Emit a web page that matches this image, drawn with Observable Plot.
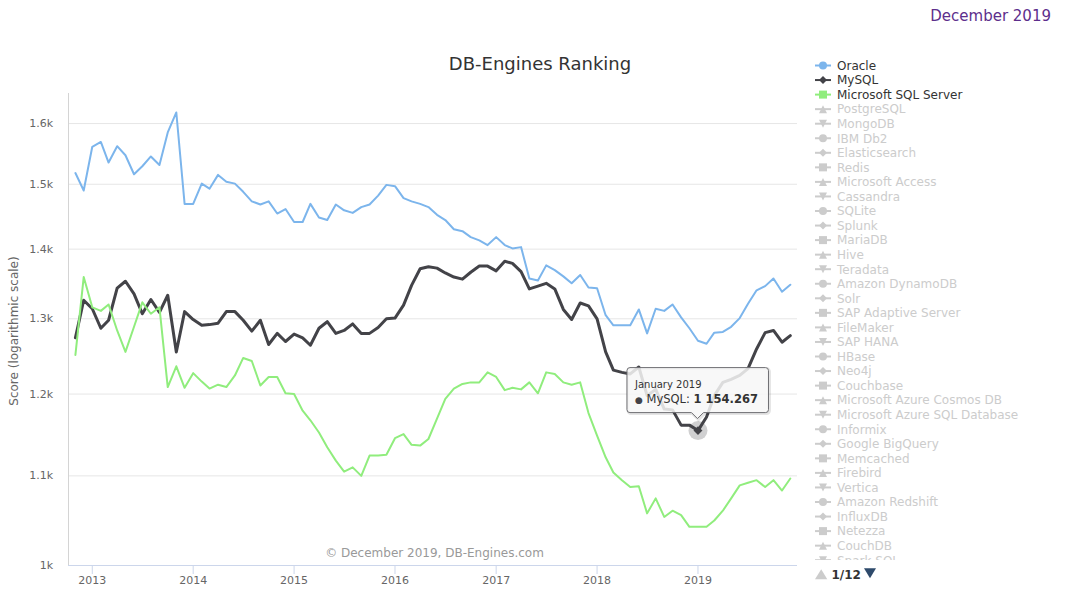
<!DOCTYPE html>
<html><head><meta charset="utf-8">
<script src="https://cdn.jsdelivr.net/npm/d3@7"></script>
<script src="https://cdn.jsdelivr.net/npm/@observablehq/plot@0.6"></script>
<style>
html,body{margin:0;padding:0;background:#fff;}
#chart{position:relative;width:1080px;height:600px;overflow:hidden;font-family:"DejaVu Sans",sans-serif;}
</style></head><body><div id="chart"></div>
<script>
// ---- data ----
const firstMonth = "2012-11-01";
const lastMonthExclusive = "2020-01-01";

const oracle = [
  1518, 1490,
  1561, 1569, 1535, 1562, 1547, 1516, 1529, 1545, 1531, 1585, 1619, 1469,
  1469, 1501, 1493, 1515, 1504, 1501, 1488, 1473, 1468, 1473, 1454, 1461,
  1441, 1441, 1469, 1448, 1444, 1468, 1459, 1455, 1464, 1468, 1482, 1499,
  1497, 1478, 1473, 1469, 1464, 1452, 1444, 1430, 1427, 1418, 1413, 1406,
  1418, 1406, 1401, 1403, 1357, 1354, 1376, 1369, 1360, 1350, 1362, 1344,
  1343, 1305, 1291, 1291, 1291, 1313, 1280, 1314, 1311, 1320, 1302, 1287,
  1270, 1266, 1281, 1282, 1289, 1301, 1321, 1340, 1346, 1357, 1338, 1348
];
const mysql = [
  1274, 1326,
  1314, 1287, 1298, 1343, 1353, 1335, 1307, 1327, 1309, 1333, 1255, 1310,
  1299, 1291, 1292, 1294, 1310, 1310, 1298, 1283, 1298, 1265, 1280, 1269,
  1279, 1274, 1264, 1287, 1296, 1280, 1284, 1293, 1280, 1280, 1288, 1300,
  1301, 1319, 1347, 1371, 1374, 1372, 1365, 1359, 1356, 1366, 1375, 1375,
  1368, 1382, 1379, 1367, 1342, 1346, 1350, 1342, 1313, 1299, 1322, 1318,
  1300, 1255, 1231, 1228, 1226, 1235, 1198, 1206, 1181, 1180, 1161, 1161,
  1154.267, 1171, 1198, 1215, 1219, 1224, 1233, 1259, 1281, 1284, 1268, 1277
];
const sqlserver = [
  1251, 1359,
  1316, 1311, 1320, 1284, 1255, 1289, 1323, 1307, 1316, 1209, 1236, 1208,
  1227, 1216, 1207, 1212, 1209, 1224, 1247, 1243, 1211, 1222, 1222, 1201,
  1200, 1179, 1167, 1152, 1134, 1118, 1105, 1110, 1100, 1124, 1124, 1125,
  1145, 1150, 1137, 1136, 1144, 1169, 1194, 1207, 1213, 1215, 1215, 1228,
  1222, 1205, 1208, 1206, 1215, 1201, 1228, 1226, 1215, 1212, 1215, 1176,
  1148, 1122, 1104, 1095, 1087, 1088, 1057, 1074, 1053, 1060, 1055, 1042,
  1042, 1042, 1049, 1060, 1074, 1089, 1092, 1095, 1087, 1095, 1083, 1097
];

const seriesNames = ["Oracle", "MySQL", "Microsoft SQL Server"];
const seriesColors = ["#7cb5ec", "#434348", "#90ed7d"];
const seriesWidths = [2, 3, 2];

const legendNames = [
  "Oracle", "MySQL", "Microsoft SQL Server", "PostgreSQL", "MongoDB", "IBM Db2",
  "Elasticsearch", "Redis", "Microsoft Access", "Cassandra", "SQLite", "Splunk",
  "MariaDB", "Hive", "Teradata", "Amazon DynamoDB", "Solr", "SAP Adaptive Server",
  "FileMaker", "SAP HANA", "HBase", "Neo4j", "Couchbase", "Microsoft Azure Cosmos DB",
  "Microsoft Azure SQL Database", "Informix", "Google BigQuery", "Memcached", "Firebird",
  "Vertica", "Amazon Redshift", "InfluxDB", "Netezza", "CouchDB", "Spark SQL"
];
const legendSymbols = ["circle", "diamond", "square", "triangle", "triangle-down"];

const yTicks = [1000, 1100, 1200, 1300, 1400, 1500, 1600];
const xTickYears = [2013, 2014, 2015, 2016, 2017, 2018, 2019];

const tooltipPoint = {series: "MySQL", date: "2019-01-01", label: "January 2019", value: 1154.267, text: "1 154.267"};

const titleText = "DB-Engines Ranking";
const yLabelText = "Score (logarithmic scale)";
const creditsText = "\u00a9 December 2019, DB-Engines.com";
const headerText = "December 2019";
const navText = "1/12";

// ---- build ----
const months = d3.utcMonth.range(new Date(firstMonth), new Date(lastMonthExclusive));
const seriesData = [oracle, mysql, sqlserver].map((vals, i) =>
  vals.map((v, j) => ({series: seriesNames[i], date: months[j], value: v})));

const W = 1080, H = 600;
const xDomain = [new Date("2012-10-07"), new Date("2019-12-27")];
const yDomain = [1000, 1652];

const tip = {...tooltipPoint, date: new Date(tooltipPoint.date)};

const plot = Plot.plot({
  width: W, height: H,
  marginLeft: 68, marginRight: 283, marginTop: 93, marginBottom: 35,
  style: {fontFamily: "'DejaVu Sans', sans-serif", background: "transparent", overflow: "visible"},
  x: {type: "utc", domain: xDomain},
  y: {type: "log", domain: yDomain},
  marks: [
    Plot.ruleY(yTicks.slice(1), {stroke: "#e6e6e6", strokeWidth: 1}),
    Plot.ruleY([yDomain[0]], {stroke: "#ccd6eb"}),
    Plot.ruleX([xDomain[0]], {stroke: "#d4d4d4"}),
    Plot.axisX({
      ticks: xTickYears.map(y => new Date(Date.UTC(y, 0, 1))),
      tickFormat: d3.utcFormat("%Y"), tickSize: 9, tickPadding: 1.5,
      stroke: "#ccd6eb", fill: "#666", fontSize: 11, label: null
    }),
    Plot.axisY({
      ticks: yTicks, tickFormat: d => `${d / 1000}k`, tickSize: 0, tickPadding: 15.3,
      fill: "#666", fontSize: 11, label: null
    }),
    ...seriesData.map((data, i) => Plot.line(data, {
      x: "date", y: "value", stroke: seriesColors[i], strokeWidth: seriesWidths[i],
      strokeLinejoin: "round", strokeLinecap: "round"
    })),
    Plot.dot([tip], {x: "date", y: "value", r: 9.5, fill: "#434348", fillOpacity: 0.25, stroke: "none"}),
    Plot.dot([tip], {x: "date", y: "value", r: 4, symbol: "diamond2", fill: "#434348", stroke: "none"})
  ]
});

document.getElementById("chart").appendChild(plot);
const svg = d3.select(plot);
const font = "'DejaVu Sans', sans-serif";

// header, title, y label, credits
svg.append("text").attr("x", 1051).attr("y", 21).attr("text-anchor", "end")
  .attr("font-family", font).attr("font-size", 15).attr("fill", "#5d2e8c").text(headerText);
svg.append("text").attr("x", 540).attr("y", 69.5).attr("text-anchor", "middle")
  .attr("font-family", font).attr("font-size", 18).attr("fill", "#333").text(titleText);
svg.append("text").attr("transform", "translate(18,331) rotate(-90)").attr("text-anchor", "middle")
  .attr("font-family", font).attr("font-size", 12).attr("fill", "#666").text(yLabelText);
svg.append("text").attr("x", 434.5).attr("y", 557).attr("text-anchor", "middle")
  .attr("font-family", font).attr("font-size", 12).attr("fill", "#999").text(creditsText);

// legend
const clip = svg.append("defs").append("clipPath").attr("id", "legclip");
clip.append("rect").attr("x", 800).attr("y", 50).attr("width", 280).attr("height", 510);
const leg = svg.append("g").attr("clip-path", "url(#legclip)").attr("text-anchor", "start");
function symbolPath(kind, cx, cy) {
  const s = 4;
  switch (kind) {
    case "circle": return `M${cx - s},${cy} a${s},${s} 0 1,0 ${2 * s},0 a${s},${s} 0 1,0 ${-2 * s},0 Z`;
    case "diamond": return `M${cx},${cy - s} L${cx + s},${cy} L${cx},${cy + s} L${cx - s},${cy} Z`;
    case "square": return `M${cx - s},${cy - s} H${cx + s} V${cy + s} H${cx - s} Z`;
    case "triangle": return `M${cx},${cy - s} L${cx + s},${cy + s} L${cx - s},${cy + s} Z`;
    default: return `M${cx - s},${cy - s} L${cx + s},${cy - s} L${cx},${cy + s} Z`;
  }
}
legendNames.forEach((name, i) => {
  const cy = 65.5 + 14.55 * i;
  const active = i < seriesNames.length;
  const col = active ? seriesColors[i] : "#cccccc";
  leg.append("line").attr("x1", 815).attr("x2", 831).attr("y1", cy).attr("y2", cy)
    .attr("stroke", col).attr("stroke-width", 2);
  leg.append("path").attr("d", symbolPath(legendSymbols[i % 5], 823, cy)).attr("fill", col);
  leg.append("text").attr("x", 837).attr("y", cy + 4.3).attr("text-anchor", "start").attr("font-family", font)
    .attr("font-size", 12).attr("fill", active ? "#333" : "#cccccc").text(name);
});
// legend navigation
svg.append("path").attr("d", "M815,579.3 L827.3,579.3 L821.2,569.3 Z").attr("fill", "#cccccc");
svg.append("text").attr("x", 831.5).attr("y", 578.5).attr("text-anchor", "start").attr("font-family", font).attr("font-size", 12)
  .attr("font-weight", "bold").attr("fill", "#333").text(navText);
svg.append("path").attr("d", "M864,568.3 L876,568.3 L870,578.3 Z").attr("fill", "#2e4a6b");

// tooltip
const px = plot.scale("x").apply(tip.date);
const py = plot.scale("y").apply(tip.value);
const bw = 141.5, bh = 45, r = 3;
const bx = px - 70.5, by = py - 62.5;
const calloutD = `M${bx + r},${by} H${bx + bw - r} A${r},${r} 0 0 1 ${bx + bw},${by + r} V${by + bh - r} A${r},${r} 0 0 1 ${bx + bw - r},${by + bh} H${px + 6} L${px},${by + bh + 6} L${px - 6},${by + bh} H${bx + r} A${r},${r} 0 0 1 ${bx},${by + bh - r} V${by + r} A${r},${r} 0 0 1 ${bx + r},${by} Z`;
const tg = svg.append("g").attr("text-anchor", "start");
tg.append("path").attr("d", calloutD).attr("transform", "translate(1,1)").attr("fill", "none")
  .attr("stroke", "rgba(0,0,0,0.10)").attr("stroke-width", 3);
tg.append("path").attr("d", calloutD).attr("fill", "rgba(247,247,247,0.85)")
  .attr("stroke", "#6e6e72").attr("stroke-width", 1);
tg.append("text").attr("x", bx + 8).attr("y", py - 42.5).attr("text-anchor", "start").attr("font-family", font)
  .attr("font-size", 10).attr("fill", "#333").text(tip.label);
const t2 = tg.append("text").attr("x", bx + 8).attr("y", py - 26.8).attr("text-anchor", "start").attr("font-family", font)
  .attr("font-size", 11.5).attr("fill", "#333");
t2.append("tspan").attr("fill", seriesColors[1]).attr("font-size", 9).text("\u25CF");
t2.append("tspan").text(" " + tip.series + ": ");
t2.append("tspan").attr("font-weight", "bold").text(tip.text);
</script>
</body></html>
